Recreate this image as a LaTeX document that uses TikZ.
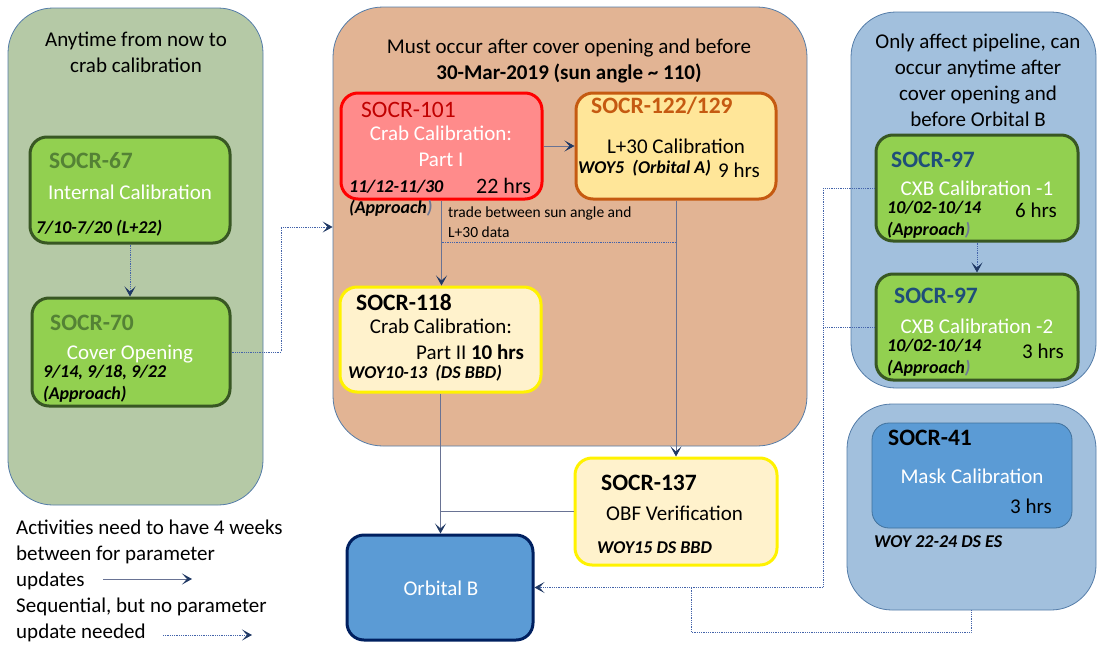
\documentclass[tikz,border=0pt]{standalone}
\usepackage{fontspec}
\setmainfont{Carlito}
\usetikzlibrary{arrows.meta,positioning}
\definecolor{leftbg}{RGB}{181,201,166}
\definecolor{midbg}{RGB}{226,180,148}
\definecolor{rightbg}{RGB}{162,192,221}
\definecolor{panelline}{RGB}{84,124,168}
\definecolor{greenfill}{RGB}{146,208,80}
\definecolor{greenline}{RGB}{56,87,35}
\definecolor{greentext}{RGB}{84,130,53}
\definecolor{redfill}{RGB}{255,139,139}
\definecolor{redtext}{RGB}{192,0,0}
\definecolor{orangefill}{RGB}{255,230,153}
\definecolor{orangeline}{RGB}{197,90,17}
\definecolor{creamfill}{RGB}{255,242,204}
\definecolor{bluefill}{RGB}{91,155,213}
\definecolor{blueline}{RGB}{65,113,156}
\definecolor{navy}{RGB}{0,32,96}
\definecolor{bluetext}{RGB}{31,78,121}
\definecolor{linegray}{RGB}{105,115,148}
\definecolor{arrownavy}{RGB}{31,56,100}
\definecolor{dotblue}{RGB}{68,100,170}
\definecolor{parengray}{RGB}{110,120,150}

\tikzset{
  panel/.style={draw=panelline, line width=0.8pt, rounded corners=45pt},
  taskbox/.style={line width=3pt, rounded corners=17pt},
  txt/.style={inner sep=0pt, font=\fontsize{21}{26}\selectfont},
  socr/.style={inner sep=0pt, font=\fontsize{23.5}{28}\selectfont\bfseries},
  when/.style={inner sep=0pt, font=\fontsize{18}{22}\selectfont\bfseries\itshape},
  note/.style={inner sep=0pt, font=\fontsize{15.5}{20}\selectfont},
  solidarr/.style={draw=linegray, line width=0.8pt,
    -{Stealth[length=10pt,width=11pt,inset=5pt,color=arrownavy]}},
  solidline/.style={draw=linegray, line width=0.8pt},
  dotarr/.style={draw=dotblue, line width=0.8pt, densely dotted,
    -{Stealth[length=10pt,width=11pt,inset=5pt,color=arrownavy]}},
  dotline/.style={draw=dotblue, line width=0.8pt, densely dotted}
}

\begin{document}
\begin{tikzpicture}[x=1pt,y=-1pt]
\useasboundingbox (0,0) rectangle (1097,645);

% panels
\node[panel, fill=leftbg, minimum width=255pt, minimum height=497pt] (pleft) at (135.5,256.5) {};
\node[panel, fill=midbg, rounded corners=50pt, minimum width=474pt, minimum height=439pt] (pmid) at (570,226.5) {};
\node[panel, fill=rightbg, minimum width=245pt, minimum height=376pt] (pright) at (973.5,200) {};
\node[panel, fill=rightbg, minimum width=249pt, minimum height=206pt] (pmask) at (971.5,507) {};

% multi-line nodes: base = last line
\node[txt, align=center, anchor=base] (tleft) at (136,72) {Anytime from now to\\crab calibration};
\node[txt, align=center, anchor=base] (tmid) at (569,79) {Must occur after cover opening and before\\\textbf{30-Mar-2019 (sun angle \char`~\ 110)}};
\node[txt, align=center, anchor=base] (tright) at (978,126) {Only affect pipeline, can\\occur anytime after\\cover opening and\\before Orbital B};

% left column
\node[taskbox, draw=greenline, fill=greenfill, minimum width=200pt, minimum height=106pt] (b67) at (130,190) {};
\node[socr, text=greentext, anchor=base west] (n67) at (49,168) {SOCR-67};
\node[txt, text=white, anchor=base] (d67) at (130,199) {Internal Calibration};
\node[when, anchor=base west] (w67) at (36,233) {7/10-7/20 (L+22)};

\node[taskbox, draw=greenline, fill=greenfill, minimum width=198pt, minimum height=108pt] (b70) at (131,352) {};
\node[socr, text=greentext, anchor=base west] (n70) at (50,330) {SOCR-70};
\node[txt, text=white, anchor=base] (d70) at (130,359) {Cover Opening};
\node[when, anchor=base west, align=left] (w70) at (43,399) {9/14, 9/18, 9/22\\(Approach)};

% middle
\node[taskbox, draw=red, fill=redfill, minimum width=201pt, minimum height=106pt] (b101) at (441.5,146) {};
\node[socr, font=\fontsize{23.5}{28}\selectfont, text=redtext, anchor=base west] (n101) at (361,117) {SOCR-101};
\node[txt, text=white, align=center, anchor=base] (d101) at (441,166) {Crab Calibration:\\Part I};
\node[when, anchor=base west] (w101) at (349,192) {11/12-11/30};
\node[txt, font=\fontsize{22}{26}\selectfont, anchor=base west] (h101) at (476,193) {22 hrs};
\node[when, anchor=base west] (a101) at (349,213) {(Approach{\color{parengray})}};

\node[taskbox, draw=orangeline, fill=orangefill, minimum width=200pt, minimum height=106pt] (b122) at (676,146) {};
\node[socr, text=orangeline, anchor=base west] (n122) at (591,113) {SOCR-122/129};
\node[txt, anchor=base] (d122) at (676,153) {L+30 Calibration};
\node[when, anchor=base west] (w122) at (578,173) {WOY5\ \ (Orbital A)};
\node[txt, anchor=base west] (h122) at (718,177) {9 hrs};

\node[note, align=left, anchor=base west] (trade) at (448,237) {trade between sun angle and\\L+30 data};

\node[taskbox, draw=yellow, fill=creamfill, minimum width=201pt, minimum height=105pt] (b118) at (440.5,339.5) {};
\node[socr, anchor=base west] (n118) at (356,310) {SOCR-118};
\node[txt, anchor=base] (d118) at (441,333) {Crab Calibration:};
\node[txt, anchor=base west] (h118) at (416,359) {Part II \textbf{10 hrs}};
\node[when, anchor=base west] (w118) at (348,378) {WOY10-13\ \ (DS BBD)};

\node[taskbox, draw=yellow, fill=creamfill, minimum width=202pt, minimum height=107pt] (b137) at (676,511.5) {};
\node[socr, anchor=base west] (n137) at (601,490) {SOCR-137};
\node[txt, anchor=base west] (d137) at (606,520) {OBF Verification};
\node[when, anchor=base west] (w137) at (597,553) {WOY15 DS BBD};

\node[taskbox, draw=navy, fill=bluefill, minimum width=186pt, minimum height=105pt] (borb) at (440,587.5) {};
\node[txt, text=white, anchor=base] (dorb) at (441,595) {Orbital B};

% right column
\node[taskbox, draw=greenline, fill=greenfill, minimum width=202pt, minimum height=106pt] (b97a) at (977,188) {};
\node[socr, text=bluetext, anchor=base west] (n97a) at (891,167) {SOCR-97};
\node[txt, text=white, anchor=base] (d97a) at (977,195) {CXB Calibration -1};
\node[when, anchor=base west, align=left] (w97a) at (887,235) {10/02-10/14\\(Approach{\color{parengray})}};
\node[txt, anchor=base west] (h97a) at (1015,217) {6 hrs};

\node[taskbox, draw=greenline, fill=greenfill, minimum width=202pt, minimum height=106pt] (b97b) at (977,327) {};
\node[socr, text=bluetext, anchor=base west] (n97b) at (894,303) {SOCR-97};
\node[txt, text=white, anchor=base] (d97b) at (977,333) {CXB Calibration -2};
\node[when, anchor=base west, align=left] (w97b) at (887,373) {10/02-10/14\\(Approach{\color{parengray})}};
\node[txt, anchor=base west] (h97b) at (1022,358) {3 hrs};

\node[draw=blueline, line width=0.8pt, rounded corners=17pt, fill=bluefill, minimum width=200pt, minimum height=105pt] (b41) at (972,475.5) {};
\node[socr, anchor=base west] (n41) at (888,445) {SOCR-41};
\node[txt, text=white, anchor=base] (d41) at (972,483) {Mask Calibration};
\node[txt, anchor=base east] (h41) at (1052,513) {3 hrs};
\node[when, anchor=base west] (w41) at (874,547) {WOY 22-24 DS ES};

% connectors
\draw[dotarr] (b67.south) -- (b67.south |- b70.north);
\coordinate (c70) at (281,227);
\draw[dotarr] (b70.east) -| (c70) -- (c70 -| pmid.west);

\draw[solidarr] (b101.east) -- (b122.west);
\draw[solidarr] (b101.south) -- (b101.south |- b118.north);
\draw[solidarr] (b122.south) -- (b137.north);
\coordinate (ctrade) at (676,242);
\draw[dotline] (ctrade) -- (ctrade -| b101.south);
\draw[solidarr] (b118.south) -- (b118.south |- borb.north);
\draw[solidline] (b137.west) -- (b137.west -| b118.south);

\coordinate (c97) at (823,188);
\draw[dotline] (b97a.west) -- (c97);
\draw[dotline] (b97b.west) -- (b97b.west -| c97);
\draw[dotarr] (c97) |- (borb.east);
\coordinate (c41) at (691,632);
\draw[dotline] (pmask.south) |- (c41) -- (c41 |- borb.east);
\draw[dotarr] (b97a.south) -- (b97b.north);

% legend
\node[txt, align=left, anchor=base west] (legsolid) at (16,586) {Activities need to have 4 weeks\\between for parameter\\updates};
\node[txt, align=left, anchor=base west] (legdot) at (16,638) {Sequential, but no parameter\\update needed};
\coordinate (ls1) at (103,579);
\coordinate (ls2) at (192,579);
\draw[solidarr] (ls1) -- (ls2);
\coordinate (ld1) at (163,635);
\coordinate (ld2) at (252,635);
\draw[dotarr] (ld1) -- (ld2);

\end{tikzpicture}
\end{document}
